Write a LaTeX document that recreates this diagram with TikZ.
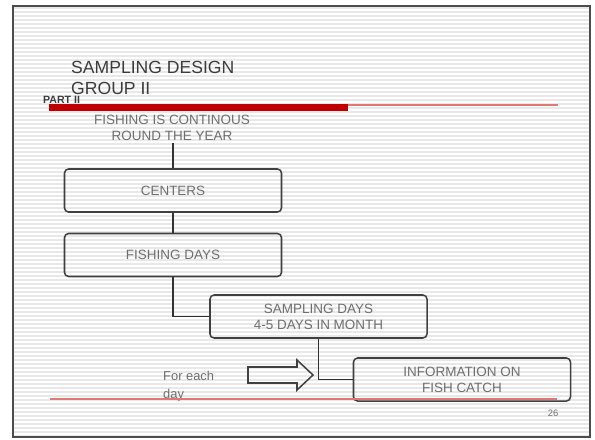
\documentclass[tikz,border=0pt]{standalone}
\usepackage{fontspec}
\setmainfont{Liberation Sans}
\usetikzlibrary{positioning}
\definecolor{slidered}{HTML}{C00000}
\definecolor{thinred}{HTML}{E07878}
\definecolor{txtgray}{HTML}{6E6E6E}
\definecolor{titlegray}{HTML}{3C3C3C}
\begin{document}
\begin{tikzpicture}[x=0.03cm,y=-0.03cm,
  stepbox/.style={draw=black!75,line width=1.3pt,rounded corners=3.5pt,
    minimum width=6.51cm,minimum height=1.29cm,align=center,
    text=txtgray,font=\fontsize{11.5}{13.6}\selectfont},
  conn/.style={draw=black!80,line width=1.5pt}]
\useasboundingbox (0,0) rectangle (595,439);
\foreach \y in {8,12,...,436}
  \draw[gray!18,line width=0.9pt] (14,\y) -- (589,\y);
\draw[black!70,line width=1.6pt] (13,6) rectangle (590,437);
\draw[thinred,line width=1.1pt] (49,105) -- (558,105);
\draw[slidered,line width=6.8pt] (49,107.5) -- (348,107.5);
\node[anchor=north west,inner sep=0pt,align=left,text=titlegray,
  font=\fontsize{15}{17.5}\selectfont] (title) at (71,61) {SAMPLING DESIGN\\GROUP II};
\node[anchor=west,inner sep=0pt,text=titlegray,font=\fontsize{9}{10}\selectfont\bfseries]
  (part) at (43,100) {PART II};
\node[align=center,text=txtgray,font=\fontsize{11.5}{13.6}\selectfont,inner sep=2pt]
  (year) at (172,128) {FISHING IS CONTINOUS\\ROUND THE YEAR};
\node[stepbox] (centers) at (173,190.5) {CENTERS};
\node[stepbox] (fishing) at (173,255) {FISHING DAYS};
\node[stepbox] (sampling) at (318.5,316.5) {SAMPLING DAYS\\4-5 DAYS IN MONTH};
\node[stepbox] (info) at (462,379.5) {INFORMATION ON\\FISH CATCH};
\draw[conn] (year.south -| centers.north) -- (centers.north);
\draw[conn] (centers) -- (fishing);
\draw[conn] (fishing.south) |- (sampling.west);
\draw[conn] (sampling.south) |- (info.west);
\draw[black!75,line width=1.3pt] (248,367) -- (297,367) -- (297,360) -- (313,375)
  -- (297,390) -- (297,383) -- (248,383) -- cycle;
\node[anchor=west,align=left,inner sep=0pt,text=txtgray,
  font=\fontsize{11}{15}\selectfont] (each) at (163,386) {For each\\day};
\draw[thinred,line width=1.3pt] (50,399) -- (557,399);
\node[text=txtgray,font=\fontsize{8}{9}\selectfont,inner sep=0pt] (page) at (553,413) {26};
\end{tikzpicture}
\end{document}
